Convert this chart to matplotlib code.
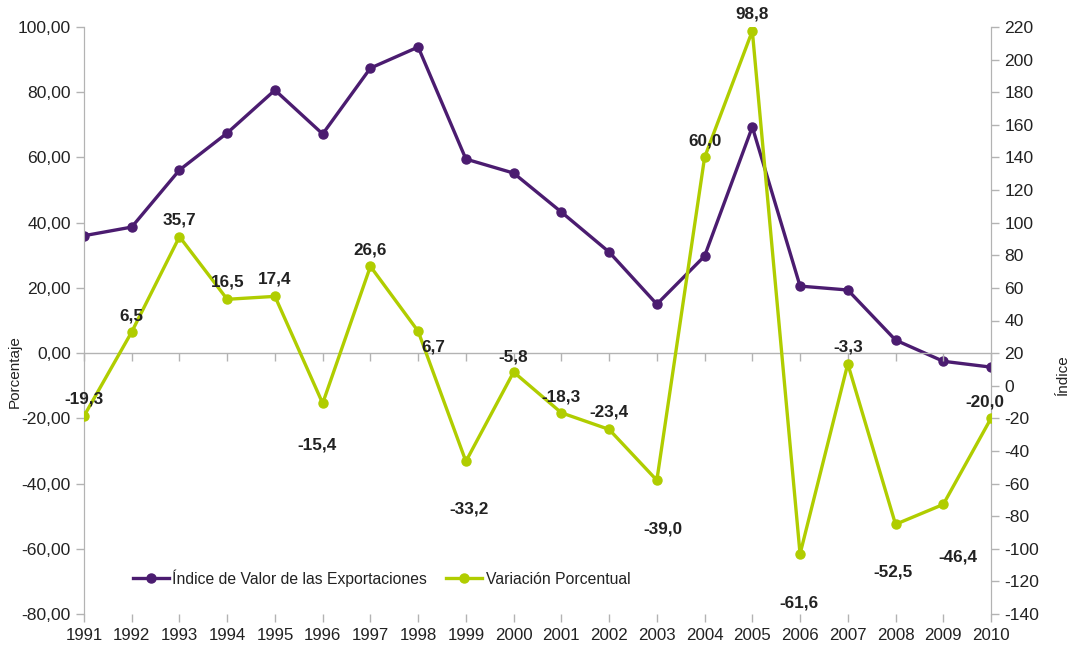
import matplotlib
matplotlib.use("Agg")
import matplotlib.pyplot as plt

plt.rcParams['font.family'] = ['Liberation Sans', 'DejaVu Sans']
plt.rcParams['axes.unicode_minus'] = False

# Data
years = list(range(1991, 2011))
indice = [92, 97.3, 132.3, 155, 181.3, 154.4, 194.8, 207.7, 139, 130.4,
          106.5, 82, 50, 79.5, 158.7, 61.1, 58.7, 28, 15, 11.4]
variacion = [-19.3, 6.5, 35.7, 16.5, 17.4, -15.4, 26.6, 6.7, -33.2, -5.8,
             -18.3, -23.4, -39.0, 60.0, 98.8, -61.6, -3.3, -52.5, -46.4, -20.0]

# label offsets in pixels (dx, dy)
label_offsets = [(0, 17), (0, 16), (0, 17), (0, 17), (0, 17), (-6, -42), (0, 16),
                 (15, -16), (3, -48), (0, 15), (0, 16), (0, 17), (6, -49), (0, 16),
                 (0, 17), (-1, -49), (0, 17), (-3, -48), (15, -53), (-6, 16)]

purple = '#4b1c70'
green = '#b0cd00'
gray = '#b3b3b3'
txt = '#222222'

fig = plt.figure(figsize=(10.74, 6.48), dpi=100)
ax = fig.add_axes([84/1074, 1 - 614/648, 907/1074, 587/648])
ax2 = ax.twinx()

# Left axis: Porcentaje
ax.set_xlim(1991, 2010)
ax.set_ylim(-80, 100)
ax.set_yticks(range(-80, 101, 20))
ax.set_yticklabels([f"{v:.2f}".replace('.', ',') for v in range(-80, 101, 20)])
ax.set_xticks(years)
ax.set_xticklabels([str(y) for y in years])

# Right axis: Índice
ax2.set_ylim(-140, 220)
ax2.set_yticks(range(-140, 221, 20))

for a in (ax, ax2):
    a.spines['top'].set_visible(False)
    a.spines['bottom'].set_visible(False)
    a.spines['left'].set_color(gray)
    a.spines['right'].set_color(gray)
    a.tick_params(colors=gray, labelcolor=txt, labelsize=12.6, length=6, width=1)
ax.tick_params(axis='x', labelsize=12.2, pad=4)

# zero line with ticks
ax.axhline(0, color=gray, lw=1, zorder=1)
sec = ax.secondary_xaxis(80/180)
sec.set_xticks(years)
sec.set_xticklabels([])
sec.spines['bottom'].set_visible(False)
sec.tick_params(colors=gray, length=6, width=1, direction='out')

fig.text(15/1074, 1 - 372/648, 'Porcentaje', rotation=90, fontsize=11,
         color=txt, ha='center', va='center')
fig.text(1063/1074, 1 - 375/648, 'Índice', rotation=90, fontsize=11,
         color=txt, ha='center', va='center')

l1, = ax2.plot(years, indice, color=purple, lw=2.4, marker='o', ms=6.5,
               label='Índice de Valor de las Exportaciones', zorder=3)
l2, = ax.plot(years, variacion, color=green, lw=2.4, marker='o', ms=6.5,
              label='Variación Porcentual', zorder=3)

ax.set_zorder(ax2.get_zorder() + 1)
ax.patch.set_visible(False)

for y, v, (dx, dy) in zip(years, variacion, label_offsets):
    ax.annotate(f"{v:.1f}".replace('.', ','), (y, v), xytext=(dx, dy),
                textcoords='offset pixels', ha='center', va='center',
                fontsize=12.3, fontweight='bold', color=txt)

ax.legend([l1, l2], [l1.get_label(), l2.get_label()], loc='center left',
          bbox_to_anchor=(0.038, 0.061), ncol=2, frameon=False, fontsize=11.3,
          handlelength=2.3, columnspacing=1.25, handletextpad=0.2,
          labelcolor=txt)

plt.savefig('out.png', dpi=100)
